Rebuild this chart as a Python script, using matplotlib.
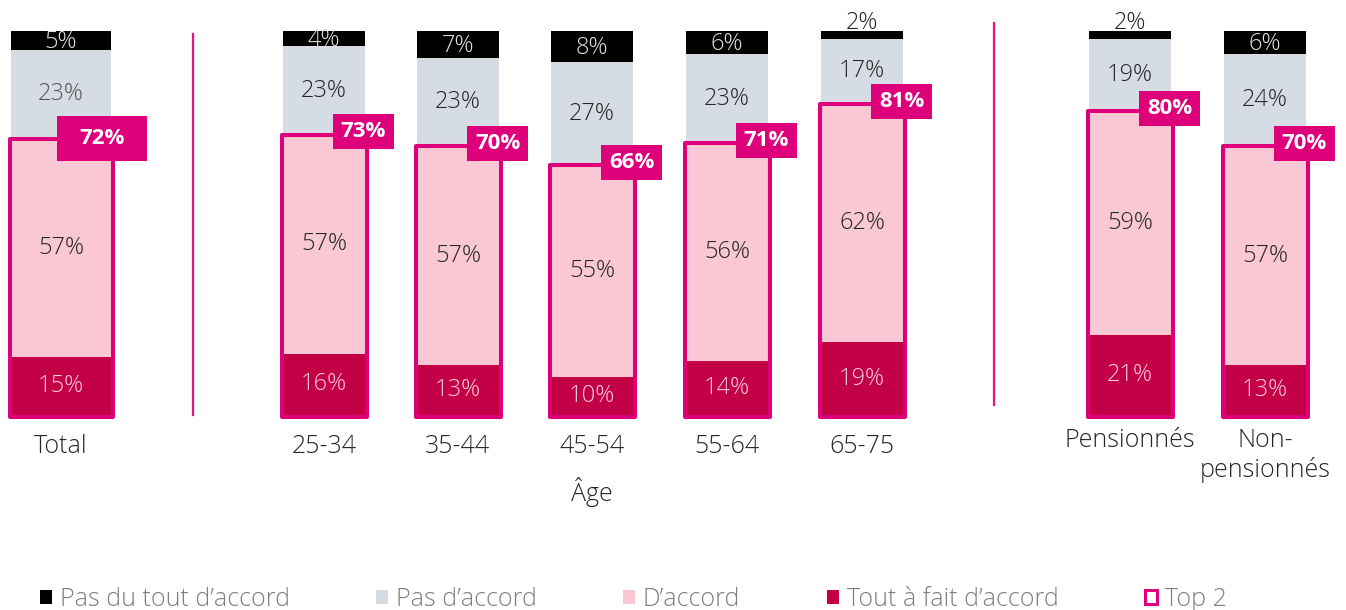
import numpy as np
import matplotlib
matplotlib.use("Agg")
import matplotlib.pyplot as plt
from matplotlib.patches import Patch

plt.rcParams['font.family'] = ['Open Sans', 'DejaVu Sans']

categories = ["Total", "25-34", "35-44", "45-54", "55-64", "65-75", "Pensionnés", "Non-\npensionnés"]
tout_a_fait = [15, 16, 13, 10, 14, 19, 21, 13]
d_accord = [57, 57, 57, 55, 56, 62, 59, 57]
pas_d_accord = [23, 23, 23, 27, 23, 17, 19, 24]
pas_du_tout = [5, 4, 7, 8, 6, 2, 2, 6]
top2 = [72, 73, 70, 66, 71, 81, 80, 70]
legend_labels = ["Pas du tout d’accord", "Pas d’accord", "D’accord", "Tout à fait d’accord", "Top 2"]

# layout (pixel x positions, widths)
xpos = np.array([61, 324, 458, 592, 727, 862, 1130, 1265])
widths = np.array([100, 82, 82, 82, 82, 82, 82, 82])

c_black = "#000000"
c_grey = "#D6DCE4"
c_pink = "#F9C8D4"
c_crimson = "#C30046"
c_mag = "#DE007B"

y0, scale = 415, 3.84


def py(y):
    # pixel row -> data value
    return (y0 - y) / scale


fig = plt.figure(figsize=(13.46, 6.10), dpi=100)
ax = fig.add_axes([0, 0, 1, 1])
ax.set_xlim(0, 1346)
ax.set_ylim(py(610), py(0))
ax.axis("off")

# 100% stacked
tot = np.array(tout_a_fait) + np.array(d_accord) + np.array(pas_d_accord) + np.array(pas_du_tout)
s1 = np.array(tout_a_fait) / tot * 100
s2 = np.array(d_accord) / tot * 100
s3 = np.array(pas_d_accord) / tot * 100
s4 = np.array(pas_du_tout) / tot * 100
b1 = s1
b2 = b1 + s2
b3 = b2 + s3

ax.bar(xpos, s1, widths, color=c_crimson, zorder=2)
ax.bar(xpos, s2, widths, bottom=b1, color=c_pink, zorder=2)
ax.bar(xpos, s3, widths, bottom=b2, color=c_grey, zorder=2)
ax.bar(xpos, s4, widths, bottom=b3, color=c_black, zorder=2)

# Top 2 outline
ax.bar(xpos, b2 + 0.4, widths + 3, bottom=-0.4, fill=False,
       edgecolor=c_mag, linewidth=2.9, joinstyle="round", zorder=3)

# Top 2 label boxes
box_w = np.where(widths > 90, 90, 61)
box_h = np.where(widths > 90, 45, 35) / scale
box_dx = np.where(widths > 90, 41, 39.5)
box_cy = b2 + np.where(widths > 90, 0.0, 0.7)
ax.bar(xpos + box_dx, box_h, box_w, bottom=box_cy - box_h / 2, color=c_mag, zorder=5)

fs = 17
for i, x in enumerate(xpos):
    ax.text(x, s1[i] / 2, f"{tout_a_fait[i]}%", ha="center", va="center",
            fontsize=fs, color="#F7CEDB", fontweight="light", zorder=4)
    ax.text(x, b1[i] + s2[i] / 2, f"{d_accord[i]}%", ha="center", va="center",
            fontsize=fs, color="#262626", fontweight="light", zorder=4)
    gcol = "#595959" if i == 0 else "#262626"
    ax.text(x, b2[i] + s3[i] / 2, f"{pas_d_accord[i]}%", ha="center", va="center",
            fontsize=fs, color=gcol, fontweight="light", zorder=4)
    if pas_du_tout[i] >= 3:
        ax.text(x, b3[i] + s4[i] / 2 - 0.4, f"{pas_du_tout[i]}%", ha="center", va="center",
                fontsize=fs, color="#E0E0E0", fontweight="light", zorder=4)
    else:
        ax.text(x, 102, f"{pas_du_tout[i]}%", ha="center", va="center",
                fontsize=fs, color="#262626", fontweight="light", zorder=4)
    ax.text(x + box_dx[i], box_cy[i], f"{top2[i]}%", ha="center", va="center",
            fontsize=16, color="white", fontweight="bold", zorder=6)
    # category label
    ax.text(x, py(428) if i >= 6 else py(434), categories[i], ha="center", va="top",
            fontsize=18, color="#262626", fontweight="light", linespacing=1.2)

ax.text(592, py(492), "Âge", ha="center", va="center", fontsize=18,
        color="#262626", fontweight="light")

# separators
ax.plot([192.5, 192.5], [py(34), py(415)], color="#E8117F", lw=1.6)
ax.plot([994, 994], [py(23), py(405)], color="#E8117F", lw=1.6)

handles = [Patch(fc=c_black, ec="none"), Patch(fc=c_grey, ec="none"),
           Patch(fc=c_pink, ec="none"), Patch(fc=c_crimson, ec="none"),
           Patch(fc="white", ec=c_mag, lw=2.2)]
leg = ax.legend(handles, legend_labels, loc="center", bbox_to_anchor=(633, py(599)),
                bbox_transform=ax.transData,
                ncol=5, frameon=False, fontsize=18, handlelength=0.5, handleheight=0.5,
                handletextpad=0.3, columnspacing=3.45, borderaxespad=0, borderpad=0)
for t in leg.get_texts():
    t.set_color("#7F7F7F")
    t.set_fontweight("light")

fig.savefig("out.png", dpi=100)
